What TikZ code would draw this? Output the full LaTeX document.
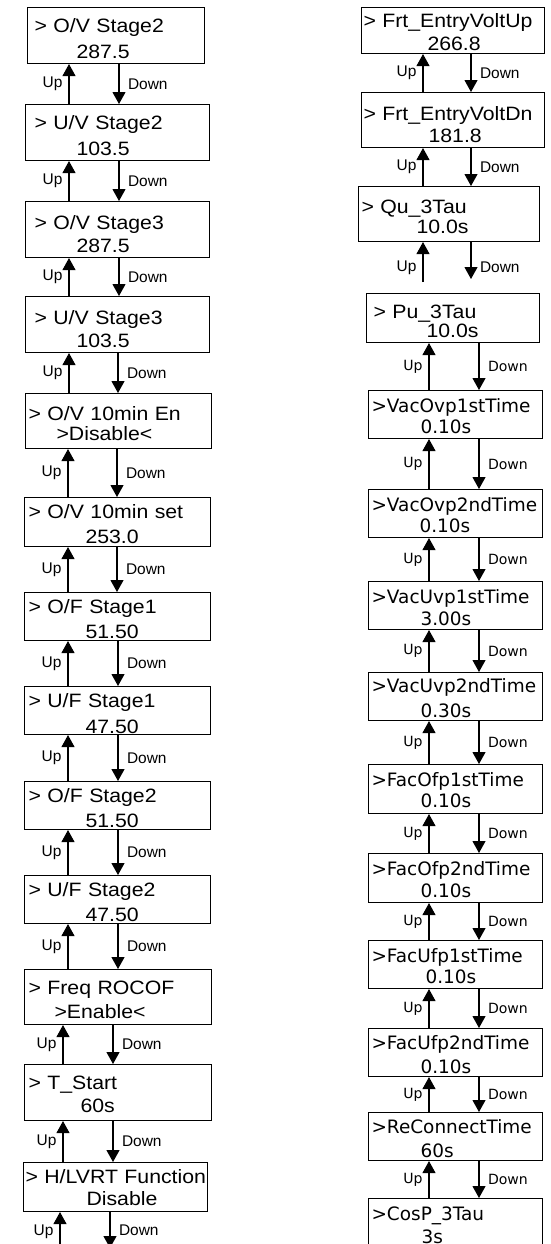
\documentclass[tikz,border=0pt]{standalone}
\usepackage{fontspec}
\setmainfont{Liberation Sans}[FakeStretch=1.10]
\newfontfamily\lcdfont{DejaVu Sans}
\newfontfamily\labfont{Liberation Sans}
\usepackage{tikz}
\usetikzlibrary{arrows.meta,positioning}
\newlength{\pxu}
\setlength{\pxu}{0.2mm}
\newcommand{\lcd}[5][0]{\hspace*{#2\pxu}\mbox{#3}\\[#1\pxu]\hspace*{#4\pxu}\mbox{#5}}

\begin{document}
\begin{tikzpicture}[x=0.2mm, y=-0.2mm,
    scr/.style={draw, line width=0.6pt, anchor=north west, align=left,
        inner xsep=2\pxu, inner ysep=0pt, font=\fontsize{11}{13.6}\selectfont},
    scrb/.style={scr, font=\lcdfont\fontsize{10.5}{12.5}\selectfont},
    arr/.style={-{Triangle[length=2.4mm, width=2.6mm]}, line width=0.6pt},
    uplab/.style={midway, left=1.2mm, inner sep=0pt, font=\labfont\fontsize{8.8}{10}\selectfont},
    dnlab/.style={midway, right=1.7mm, inner sep=0pt, font=\labfont\fontsize{8.8}{10}\selectfont},
    uplabb/.style={uplab, font=\lcdfont\fontsize{8}{10}\selectfont},
    dnlabb/.style={dnlab, font=\lcdfont\fontsize{8}{10}\selectfont}
]
    \useasboundingbox (0,0) rectangle (551,1244);
    \clip (0,0) rectangle (551,1244);

    % Left column screens
    \node[scr, text width=173\pxu, text height=25\pxu, text depth=31\pxu] (ovs2) at (27,7) {\lcd[2]{5}{> O/V Stage2}{47}{287.5}};
    \node[scr, text width=180\pxu, text height=25\pxu, text depth=31\pxu] (uvs2) at (25,104) {\lcd[2]{7}{> U/V Stage2}{49}{103.5}};
    \node[scr, text width=180\pxu, text height=28\pxu, text depth=28\pxu] (ovs3) at (25,201) {\lcd[-1]{7}{> O/V Stage3}{49}{287.5}};
    \node[scr, text width=180\pxu, text height=28\pxu, text depth=28\pxu] (uvs3) at (25,296) {\lcd[-1]{7}{> U/V Stage3}{49}{103.5}};
    \node[scr, text width=182\pxu, text height=27\pxu, text depth=28\pxu] (ovten) at (25,393) {\lcd[-4]{1}{> O/V 10min En}{29}{>Disable<}};
    \node[scr, text width=182\pxu, text height=21\pxu, text depth=28\pxu] (ovset) at (24,497) {\lcd[1]{2}{> O/V 10min set}{59}{253.0}};
    \node[scr, text width=182\pxu, text height=21\pxu, text depth=27\pxu] (ofs1) at (24,592) {\lcd[1]{2}{> O/F Stage1}{59}{51.50}};
    \node[scr, text width=182\pxu, text height=21\pxu, text depth=27\pxu] (ufs1) at (24,686) {\lcd[2]{2}{> U/F Stage1}{59}{47.50}};
    \node[scr, text width=182\pxu, text height=21\pxu, text depth=27\pxu] (ofs2) at (24,781) {\lcd[1]{2}{> O/F Stage2}{59}{51.50}};
    \node[scr, text width=182\pxu, text height=21\pxu, text depth=27\pxu] (ufs2) at (24,875) {\lcd[1]{2}{> U/F Stage2}{59}{47.50}};
    \node[scr, text width=183\pxu, text height=25\pxu, text depth=30\pxu] (rocof) at (24,969) {\lcd{2}{> Freq ROCOF}{28}{>Enable<}};
    \node[scr, text width=183\pxu, text height=25\pxu, text depth=31\pxu] (tstart) at (24,1064) {\lcd[-1]{2}{> T\_Start}{54}{60s}};
    \node[scr, text width=180\pxu, text height=21\pxu, text depth=28\pxu] (lvrt) at (23,1162) {\lcd[-2]{0}{> H/LVRT Function}{61}{Disable}};

    % Right column screens
    \node[scr, text width=179\pxu, text height=20\pxu, text depth=26\pxu] (frtup) at (361,7) {\lcd[-1]{0}{> Frt\_EntryVoltUp}{64}{266.8}};
    \node[scr, text width=179\pxu, text height=28\pxu, text depth=27\pxu] (frtdn) at (361,92) {\lcd[-2]{0}{> Frt\_EntryVoltDn}{65}{181.8}};
    \node[scr, text width=177\pxu, text height=27\pxu, text depth=28\pxu] (qutau) at (358,186) {\lcd[-4]{1}{> Qu\_3Tau}{56}{10.0s}};
    \node[scr, text width=169\pxu, text height=25\pxu, text depth=24\pxu] (putau) at (366,293) {\lcd[-5]{5}{> Pu\_3Tau}{58}{10.0s}};
    \node[scrb, text width=170\pxu, text height=22\pxu, text depth=26\pxu] (ovp1) at (368,390) {\lcd[-1]{1}{>VacOvp1stTime}{50}{0.10s}};
    \node[scrb, text width=170\pxu, text height=22\pxu, text depth=26\pxu] (ovp2) at (368,489) {\lcd[-1]{1}{>VacOvp2ndTime}{49}{0.10s}};
    \node[scrb, text width=170\pxu, text height=22\pxu, text depth=26\pxu] (uvp1) at (368,581) {\lcd{1}{>VacUvp1stTime}{50}{3.00s}};
    \node[scrb, text width=170\pxu, text height=20\pxu, text depth=28\pxu] (uvp2) at (368,672) {\lcd[3]{1}{>VacUvp2ndTime}{50}{0.30s}};
    \node[scrb, text width=170\pxu, text height=22\pxu, text depth=27\pxu] (ofp1) at (368,764) {\lcd[-1]{1}{>FacOfp1stTime}{50}{0.10s}};
    \node[scrb, text width=170\pxu, text height=22\pxu, text depth=27\pxu] (ofp2) at (368,853) {\lcd{1}{>FacOfp2ndTime}{50}{0.10s}};
    \node[scrb, text width=170\pxu, text height=22\pxu, text depth=26\pxu] (ufp1) at (368,940) {\lcd[-1]{1}{>FacUfp1stTime}{55}{0.10s}};
    \node[scrb, text width=170\pxu, text height=21\pxu, text depth=27\pxu] (ufp2) at (368,1028) {\lcd[2]{1}{>FacUfp2ndTime}{50}{0.10s}};
    \node[scrb, text width=170\pxu, text height=21\pxu, text depth=27\pxu] (recon) at (368,1112) {\lcd[2]{1}{>ReConnectTime}{50}{60s}};
    \node[scrb, text width=170\pxu, text height=22\pxu, text depth=34\pxu] (cosp) at (368,1198) {\lcd[1]{1}{>CosP\_3Tau}{51}{3s}};

    % Left column arrows
    \draw[arr] (uvs2.north -| 69,0) -- (ovs2.south -| 69,0) node[uplab] {Up};
    \draw[arr] (ovs2.south -| 119,0) -- (uvs2.north -| 119,0) node[dnlab] {Down};
    \draw[arr] (ovs3.north -| 69,0) -- (uvs2.south -| 69,0) node[uplab] {Up};
    \draw[arr] (uvs2.south -| 119,0) -- (ovs3.north -| 119,0) node[dnlab] {Down};
    \draw[arr] (uvs3.north -| 69,0) -- (ovs3.south -| 69,0) node[uplab] {Up};
    \draw[arr] (ovs3.south -| 119,0) -- (uvs3.north -| 119,0) node[dnlab] {Down};
    \draw[arr] (ovten.north -| 69,0) -- (uvs3.south -| 69,0) node[uplab] {Up};
    \draw[arr] (uvs3.south -| 118,0) -- (ovten.north -| 118,0) node[dnlab] {Down};
    \draw[arr] (ovset.north -| 68,0) -- (ovten.south -| 68,0) node[uplab] {Up};
    \draw[arr] (ovten.south -| 117,0) -- (ovset.north -| 117,0) node[dnlab] {Down};
    \draw[arr] (ofs1.north -| 68,0) -- (ovset.south -| 68,0) node[uplab] {Up};
    \draw[arr] (ovset.south -| 117,0) -- (ofs1.north -| 117,0) node[dnlab] {Down};
    \draw[arr] (ufs1.north -| 68,0) -- (ofs1.south -| 68,0) node[uplab] {Up};
    \draw[arr] (ofs1.south -| 118,0) -- (ufs1.north -| 118,0) node[dnlab] {Down};
    \draw[arr] (ofs2.north -| 68,0) -- (ufs1.south -| 68,0) node[uplab] {Up};
    \draw[arr] (ufs1.south -| 118,0) -- (ofs2.north -| 118,0) node[dnlab] {Down};
    \draw[arr] (ufs2.north -| 68,0) -- (ofs2.south -| 68,0) node[uplab] {Up};
    \draw[arr] (ofs2.south -| 118,0) -- (ufs2.north -| 118,0) node[dnlab] {Down};
    \draw[arr] (rocof.north -| 68,0) -- (ufs2.south -| 68,0) node[uplab] {Up};
    \draw[arr] (ufs2.south -| 118,0) -- (rocof.north -| 118,0) node[dnlab] {Down};
    \draw[arr] (tstart.north -| 63,0) -- (rocof.south -| 63,0) node[uplab] {Up};
    \draw[arr] (rocof.south -| 113,0) -- (tstart.north -| 113,0) node[dnlab] {Down};
    \draw[arr] (lvrt.north -| 63,0) -- (tstart.south -| 63,0) node[uplab] {Up};
    \draw[arr] (tstart.south -| 113,0) -- (lvrt.north -| 113,0) node[dnlab] {Down};

    % Arrows leaving the bottom edge
    \coordinate (botup) at (60,1252);
    \coordinate (botdn) at (110,1248);
    \draw[arr] (botup) -- (lvrt.south -| botup) node[uplab] {Up};
    \draw[arr] (lvrt.south -| botdn) -- (botdn) node[dnlab] {Down};

    % Right column arrows
    \draw[arr] (frtdn.north -| 423,0) -- (frtup.south -| 423,0) node[uplab] {Up};
    \draw[arr] (frtup.south -| 471,0) -- (frtdn.north -| 471,0) node[dnlab] {Down};
    \draw[arr] (qutau.north -| 423,0) -- (frtdn.south -| 423,0) node[uplab] {Up};
    \draw[arr] (frtdn.south -| 471,0) -- (qutau.north -| 471,0) node[dnlab] {Down};
    \draw[arr, shorten <=2.2mm] (putau.north -| 423,0) -- (qutau.south -| 423,0) node[uplab] {Up};
    \draw[arr, shorten >=2.8mm] (qutau.south -| 471,0) -- (putau.north -| 471,0) node[dnlab] {Down};
    \draw[arr] (ovp1.north -| 429,0) -- (putau.south -| 429,0) node[uplabb] {Up};
    \draw[arr] (putau.south -| 479,0) -- (ovp1.north -| 479,0) node[dnlabb] {Down};
    \draw[arr] (ovp2.north -| 429,0) -- (ovp1.south -| 429,0) node[uplabb] {Up};
    \draw[arr] (ovp1.south -| 479,0) -- (ovp2.north -| 479,0) node[dnlabb] {Down};
    \draw[arr] (uvp1.north -| 429,0) -- (ovp2.south -| 429,0) node[uplabb] {Up};
    \draw[arr] (ovp2.south -| 479,0) -- (uvp1.north -| 479,0) node[dnlabb] {Down};
    \draw[arr] (uvp2.north -| 429,0) -- (uvp1.south -| 429,0) node[uplabb] {Up};
    \draw[arr] (uvp1.south -| 479,0) -- (uvp2.north -| 479,0) node[dnlabb] {Down};
    \draw[arr] (ofp1.north -| 429,0) -- (uvp2.south -| 429,0) node[uplabb] {Up};
    \draw[arr] (uvp2.south -| 479,0) -- (ofp1.north -| 479,0) node[dnlabb] {Down};
    \draw[arr] (ofp2.north -| 429,0) -- (ofp1.south -| 429,0) node[uplabb] {Up};
    \draw[arr] (ofp1.south -| 479,0) -- (ofp2.north -| 479,0) node[dnlabb] {Down};
    \draw[arr] (ufp1.north -| 429,0) -- (ofp2.south -| 429,0) node[uplabb] {Up};
    \draw[arr] (ofp2.south -| 479,0) -- (ufp1.north -| 479,0) node[dnlabb] {Down};
    \draw[arr] (ufp2.north -| 429,0) -- (ufp1.south -| 429,0) node[uplabb] {Up};
    \draw[arr] (ufp1.south -| 479,0) -- (ufp2.north -| 479,0) node[dnlabb] {Down};
    \draw[arr] (recon.north -| 429,0) -- (ufp2.south -| 429,0) node[uplabb] {Up};
    \draw[arr] (ufp2.south -| 479,0) -- (recon.north -| 479,0) node[dnlabb] {Down};
    \draw[arr] (cosp.north -| 429,0) -- (recon.south -| 429,0) node[uplabb] {Up};
    \draw[arr] (recon.south -| 479,0) -- (cosp.north -| 479,0) node[dnlabb] {Down};
\end{tikzpicture}
\end{document}
